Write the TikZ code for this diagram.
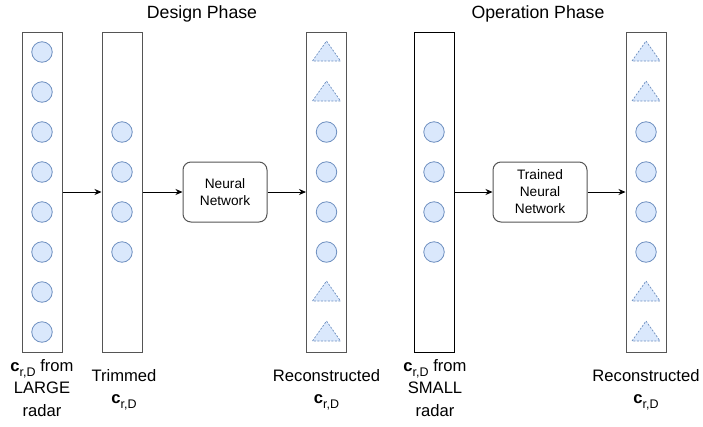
\documentclass[tikz,border=0pt]{standalone}
\usepackage{fontspec}
\setmainfont{Liberation Sans}
\usetikzlibrary{arrows.meta}
\definecolor{cfill}{HTML}{DAE8FC}
\definecolor{cstroke}{HTML}{6C8EBF}
\definecolor{colframe}{HTML}{555555}
\newcommand{\crd}{\textbf{c}\raisebox{-0.3em}{\fontsize{12.5}{12.5}\selectfont r,D}}
\begin{document}
\begin{tikzpicture}[x=1pt,y=-1pt,
  col/.style={draw=colframe, line width=1pt, minimum width=40pt, minimum height=320pt, inner sep=0pt},
  dot/.style={circle, draw=cstroke, fill=cfill, line width=0.8pt, minimum size=20.5pt, inner sep=0pt},
  nnbox/.style={draw=colframe, rounded corners=8pt, line width=1pt, minimum height=60pt, align=center, font=\fontsize{13.7}{17}\selectfont, inner sep=0pt},
  lbl/.style={align=center, font=\fontsize{16.6}{22.5}\selectfont, inner sep=0pt},
  ttl/.style={font=\fontsize{17.7}{20}\selectfont, inner sep=0pt, anchor=base},
  arr/.style={-{Stealth[length=7pt,width=6pt]}, line width=0.8pt},
  trimark/.pic={\draw[draw=cstroke, fill=cfill, dash pattern=on 2pt off 1.5pt, line width=0.7pt] (-14,9) -- (0,-11) -- (14,9) -- cycle;}
]
\useasboundingbox (0,0) rectangle (703,426);

% titles
\node[ttl] (t1) at (202,18) {Design Phase};
\node[ttl] (t2) at (538,18) {Operation Phase};

% columns
\node[col] (col1) at (42,192) {};
\node[col] (col2) at (122,192) {};
\node[col] (col3) at (326.5,192) {};
\node[col, draw=black] (col4) at (434,192) {};
\node[col] (col5) at (646,192) {};

% column 1: 8 circles
\foreach \k in {0,...,7} {
  \node[dot] (a\k) at (42,{52+40*\k}) {};
}
% column 2 and 4: 4 circles
\foreach \k in {2,...,5} {
  \node[dot] (b\k) at (122,{52+40*\k}) {};
  \node[dot] (d\k) at (434,{52+40*\k}) {};
  \node[dot] (c\k) at (326.5,{52+40*\k}) {};
  \node[dot] (e\k) at (646,{52+40*\k}) {};
}
% reconstructed entries (triangles)
\foreach \k in {0,1,6,7} {
  \pic at (326.5,{52+40*\k}) {trimark};
  \pic at (646,{52+40*\k}) {trimark};
}

% networks
\node[nnbox, minimum width=84pt] (nn) at (225,192) {Neural\\Network};
\node[nnbox, minimum width=94pt] (tnn) at (540,192) {Trained\\Neural\\Network};

% arrows
\draw[arr] (col1.east) -- (col2.west);
\draw[arr] (col2.east) -- (nn.west);
\draw[arr] (nn.east) -- (col3.west);
\draw[arr] (col4.east) -- (tnn.west);
\draw[arr] (tnn.east) -- (col5.west);

% labels
\node[lbl] (l1) at (42,388) {\crd{} from\\LARGE\\radar};
\node[lbl] (l2) at (124,390) {Trimmed\\\crd};
\node[lbl] (l3) at (326.5,390) {Reconstructed\\\crd};
\node[lbl] (l4) at (435,388) {\crd{} from\\SMALL\\radar};
\node[lbl] (l5) at (646,390) {Reconstructed\\\crd};
\end{tikzpicture}
\end{document}
